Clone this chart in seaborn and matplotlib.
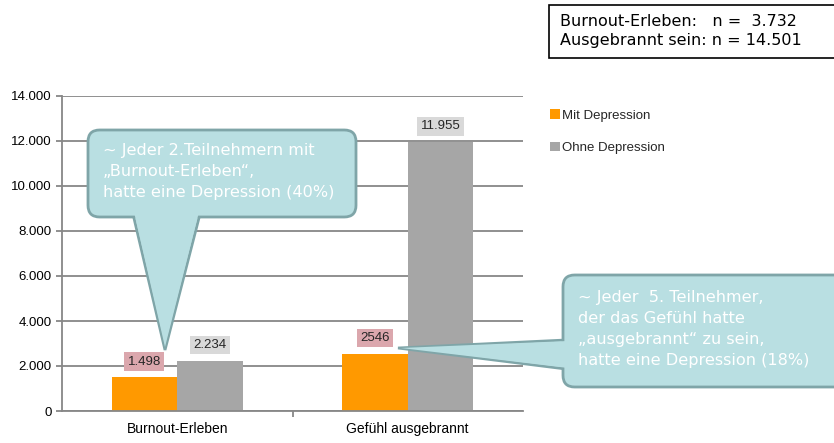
import matplotlib
matplotlib.use("Agg")
import matplotlib.pyplot as plt
import seaborn as sns
import pandas as pd
from matplotlib.patches import FancyBboxPatch, Polygon, Rectangle
from matplotlib.ticker import FuncFormatter

categories = ["Burnout-Erleben", "Gefühl ausgebrannt"]
series = ["Mit Depression", "Ohne Depression"]
mit_values = [1498, 2546]
ohne_values = [2234, 11955]
mit_labels = ["1.498", "2546"]
ohne_labels = ["2.234", "11.955"]
yticks = [0, 2000, 4000, 6000, 8000, 10000, 12000, 14000]

df = pd.DataFrame({
    "Kategorie": categories * 2,
    "Gruppe": [series[0]] * 2 + [series[1]] * 2,
    "Wert": mit_values + ohne_values,
})

sns.set_theme(style="white")
plt.rcParams["font.family"] = ["Liberation Sans", "DejaVu Sans"]

W, H = 834, 443
fig = plt.figure(figsize=(W / 100, H / 100), dpi=100)
ax = fig.add_axes([62 / W, 1 - 411 / H, (523 - 62) / W, (411 - 96) / H])

orange = "#FF9900"
grey = "#A6A6A6"
sns.barplot(data=df, x="Kategorie", y="Wert", hue="Gruppe", hue_order=series,
            palette=[orange, grey], width=0.57, saturation=1, ax=ax, legend=True,
            linewidth=0, edgecolor="none")

ax.set_xlim(-0.5, 1.5)
ax.set_ylim(0, 14000)
ax.set_yticks(yticks)
ax.yaxis.set_major_formatter(FuncFormatter(lambda v, p: f"{int(v):,}".replace(",", ".")))
ax.set_xlabel("")
ax.set_ylabel("")
ax.grid(axis="y", color="#878787", linewidth=1.3)
ax.set_axisbelow(True)
for s in ["top", "right"]:
    ax.spines[s].set_visible(False)
for s in ["left", "bottom"]:
    ax.spines[s].set_color("#878787")
    ax.spines[s].set_linewidth(1.3)
ax.set_xticks([0.5], minor=True)
ax.tick_params(axis="x", which="minor", length=4, color="#878787", width=1.3, bottom=True)
ax.tick_params(axis="x", which="major", length=0, labelsize=10, pad=8, colors="black")
ax.tick_params(axis="y", length=4, left=True, color="#878787", width=1.3, labelsize=9.5, colors="black")

# data labels
pink = "#DBA7AD"
lgrey = "#D9D9D9"
bw = 0.57 / 2
for i in range(len(categories)):
    ax.annotate(mit_labels[i], (i - bw / 2, mit_values[i]), xytext=(0, 7), textcoords="offset points",
                ha="center", va="bottom", fontsize=9.5,
                bbox=dict(boxstyle="square,pad=0.25", fc=pink, ec="none"))
    ax.annotate(ohne_labels[i], (i + bw / 2, ohne_values[i]), xytext=(0, 7), textcoords="offset points",
                ha="center", va="bottom", fontsize=9.5,
                bbox=dict(boxstyle="square,pad=0.25", fc=lgrey, ec="none"))

# legend
leg = ax.legend(loc="upper left", bbox_to_anchor=(545 / W, 1 - 104 / H), bbox_transform=fig.transFigure,
                frameon=False, fontsize=9.5, labelspacing=1.55, handlelength=0.7, handleheight=0.7,
                handletextpad=0.2, borderaxespad=0)


def P(x, y):
    return (x / W, 1 - y / H)


fill = "#B9DFE2"
edge = "#7FA5A8"
tf = fig.transFigure


def callout(x0, y0, x1, y1, tri_outline, tri_inner):
    fig.patches.append(Polygon([P(*p) for p in tri_outline], closed=True, fc=fill, ec=edge, lw=2,
                               transform=tf, zorder=10))
    bx = FancyBboxPatch(P(x0, y1), (x1 - x0) / W, (y1 - y0) / H,
                        boxstyle="round,pad=0,rounding_size=0.014", fc=fill, ec=edge, lw=2,
                        transform=tf, zorder=11, mutation_aspect=W / H)
    fig.patches.append(bx)
    fig.patches.append(Polygon([P(*p) for p in tri_inner], closed=True, fc=fill, ec="none",
                               transform=tf, zorder=12))


callout(88, 130, 356, 217,
        [(133, 214), (200, 214), (165, 350)],
        [(134, 212), (199, 212), (165, 347)])
callout(563, 275, 850, 387,
        [(566, 340), (566, 369), (398, 348)],
        [(568, 341), (568, 368), (401, 348)])

cfont = ["DejaVu Sans"]
fig.text(103 / W, 1 - 143 / H, "~ Jeder 2.Teilnehmern mit\n„Burnout-Erleben“,\nhatte eine Depression (40%)",
         color="white", fontsize=11.6, family=cfont, va="top", ha="left", linespacing=1.5, zorder=13)
fig.text(578 / W, 1 - 290 / H,
         "~ Jeder  5. Teilnehmer,\nder das Gefühl hatte\n„ausgebrannt“ zu sein,\nhatte eine Depression (18%)",
         color="white", fontsize=11.6, family=cfont, va="top", ha="left", linespacing=1.5, zorder=13)

# n box
fig.patches.append(Rectangle(P(549, 58), (840 - 549) / W, 53 / H, fc="white", ec="black", lw=1.2,
                             transform=tf, zorder=5))
fig.text(560 / W, 1 - 31 / H, "Burnout-Erleben:   n =  3.732\nAusgebrannt sein: n = 14.501",
         color="black", fontsize=11.5, family=cfont, va="center", ha="left", linespacing=1.4, zorder=6)

fig.savefig("out.png", dpi=100)
